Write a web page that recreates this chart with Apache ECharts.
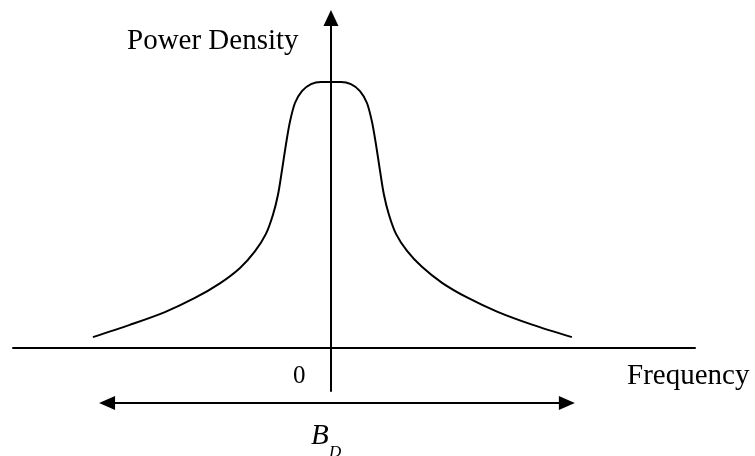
<!DOCTYPE html>
<html>
<head>
<meta charset="utf-8">
<title>Power Density</title>
<script src="https://cdn.jsdelivr.net/npm/echarts@6/dist/echarts.min.js"></script>
<style>
  html, body { margin: 0; padding: 0; background: #fff; }
  #chart { width: 755px; height: 456px; }
</style>
</head>
<body>
<div id="chart"></div>
<script>
// spectrum shape (frequency units, peak = 1)
var curveFreq = [-9.92, -8.38, -6.92, -5.67, -4.63, -3.79, -3.17, -2.71, -2.42, -2.21, -2.04, -1.88, -1.71, -1.5, -1.21, -0.83, -0.42, 0,
  0.42, 0.83, 1.21, 1.5, 1.71, 1.88, 2.04, 2.21, 2.42, 2.71, 3.17, 3.79, 4.63, 5.67, 6.92, 8.38, 10.04];
var curvePower = [0.041, 0.087, 0.135, 0.188, 0.243, 0.301, 0.363, 0.429, 0.5, 0.575, 0.669, 0.763, 0.85, 0.921, 0.966, 0.992, 1.0, 1.0,
  1.0, 0.992, 0.966, 0.921, 0.85, 0.763, 0.669, 0.575, 0.5, 0.429, 0.365, 0.305, 0.245, 0.19, 0.137, 0.088, 0.041];
// doppler bandwidth B_D span (centres of the two arrow heads)
var bandwidth = [-9.33, 9.83];

var serif = "'Liberation Serif', 'Times New Roman', serif";

var chart = echarts.init(document.getElementById("chart"));

var curveData = [];
for (var i = 0; i < curveFreq.length; i++) {
  curveData.push([curveFreq[i], curvePower[i]]);
}

var option = {
  animation: false,
  backgroundColor: "#fff",
  grid: [
    { left: 13, right: 60, top: 18, bottom: 65 },
    { left: 13, right: 60, top: 395, height: 16 }
  ],
  xAxis: [
    {
      type: "value",
      gridIndex: 0,
      min: -13.25,
      max: 15.17,
      axisLine: { show: true, onZero: true, lineStyle: { color: "#000", width: 2 } },
      axisTick: { show: false },
      axisLabel: { show: false },
      splitLine: { show: false }
    },
    {
      type: "value",
      gridIndex: 1,
      min: -13.25,
      max: 15.17,
      show: false
    }
  ],
  yAxis: [
    {
      type: "value",
      gridIndex: 0,
      min: -0.1617,
      max: 1.2406,
      axisLine: {
        show: true,
        onZero: true,
        symbol: ["none", "triangle"],
        symbolSize: [15, 16],
        lineStyle: { color: "#000", width: 2 }
      },
      axisTick: { show: false },
      axisLabel: { show: false },
      splitLine: { show: false }
    },
    {
      type: "value",
      gridIndex: 1,
      min: -1,
      max: 1,
      show: false
    }
  ],
  series: [
    {
      type: "line",
      xAxisIndex: 0,
      yAxisIndex: 0,
      data: curveData,
      smooth: 0.3,
      showSymbol: false,
      lineStyle: { color: "#000", width: 2 }
    },
    {
      type: "line",
      xAxisIndex: 1,
      yAxisIndex: 1,
      data: [[bandwidth[0], 0], [bandwidth[1], 0]],
      showSymbol: false,
      lineStyle: { width: 0, opacity: 0 },
      markLine: {
        silent: true,
        symbol: ["triangle", "triangle"],
        symbolSize: [14, 16],
        label: { show: false },
        lineStyle: { color: "#000", width: 2, type: "solid" },
        data: [[{ coord: [bandwidth[0], 0] }, { coord: [bandwidth[1], 0] }]]
      }
    }
  ],
  graphic: [
    { type: "text", left: 127, top: 27, style: { text: "Power Density", font: "29px " + serif, fill: "#000" } },
    { type: "text", left: 627, top: 362, style: { text: "Frequency", font: "29px " + serif, fill: "#000" } },
    { type: "text", left: 293, top: 364, style: { text: "0", font: "25px " + serif, fill: "#000" } },
    { type: "text", left: 311, top: 422, style: { text: "B", font: "italic 29px " + serif, fill: "#000" } },
    { type: "text", left: 329, top: 444, style: { text: "D", font: "italic 17px " + serif, fill: "#000" } }
  ]
};

chart.setOption(option);
window.addEventListener("resize", function () {
  chart.resize();
});
</script>
</body>
</html>
